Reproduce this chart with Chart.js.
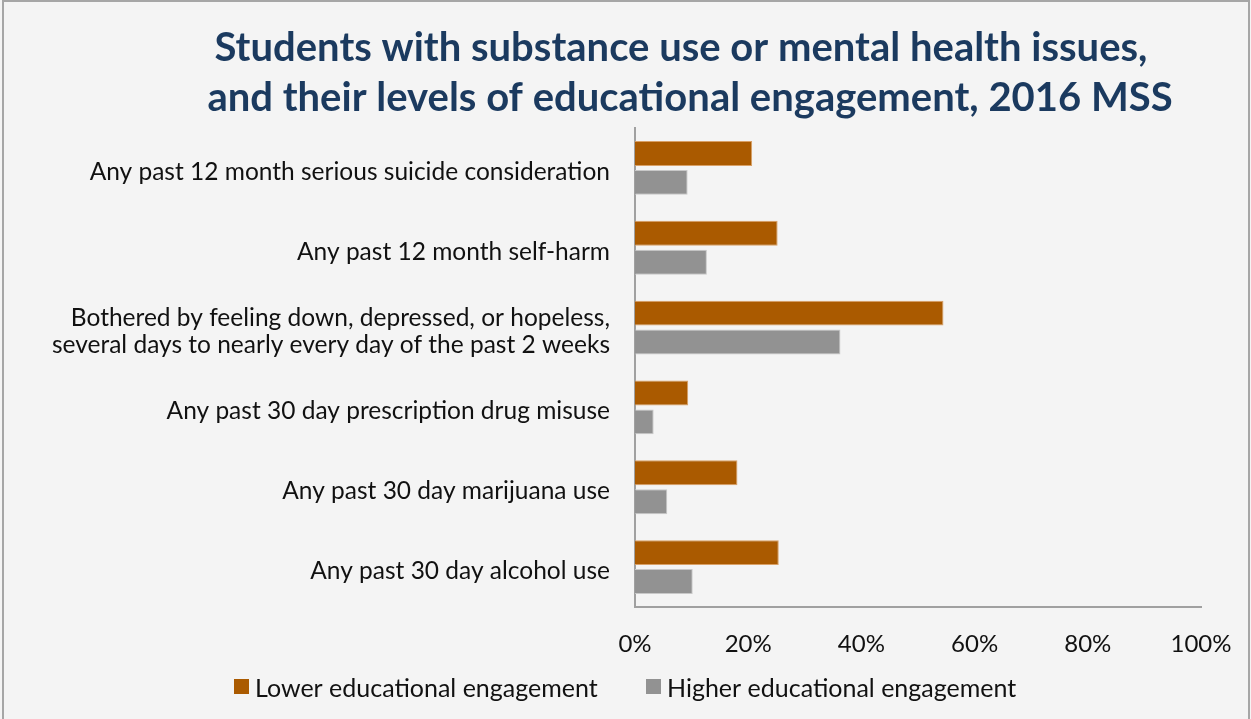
<!DOCTYPE html>
<html>
<head>
<meta charset="utf-8">
<script src="https://cdn.jsdelivr.net/npm/chart.js@4/dist/chart.umd.min.js"></script>
<style>
  html, body { margin: 0; padding: 0; background: #f4f4f4; }
  #wrap { position: relative; width: 1251px; height: 719px; }
  canvas { display: block; }
</style>
</head>
<body>
<div id="wrap"><canvas id="c" width="1251" height="719"></canvas></div>
<script>
// Survey categories, top to bottom
const categories = [
  "Any past 12 month serious suicide consideration",
  "Any past 12 month self-harm",
  ["Bothered by feeling down, depressed, or hopeless,", "several days to nearly every day of the past 2 weeks"],
  "Any past 30 day prescription drug misuse",
  "Any past 30 day marijuana use",
  "Any past 30 day alcohol use"
];

// Percent of students in each group
const lowerEngagement  = [20.7, 25.2, 54.5, 9.4, 18.1, 25.4];
const higherEngagement = [9.3, 12.7, 36.3, 3.3, 5.7, 10.2];

const seriesNames = ["Lower educational engagement", "Higher educational engagement"];
const xTicks = [0, 20, 40, 60, 80, 100];

const titleLines = [
  "Students with substance use or mental health issues,",
  "and their levels of educational engagement, 2016 MSS"
];

const FONT = "Lato, 'Open Sans', sans-serif";

// Background, frame, title and legend drawn around the plot
const decorations = {
  id: 'decorations',
  beforeDraw(chart) {
    const ctx = chart.ctx;
    ctx.save();
    ctx.fillStyle = '#f4f4f4';
    ctx.fillRect(0, 0, chart.width, chart.height);
    ctx.strokeStyle = '#a6a6a6';
    ctx.lineWidth = 2;
    ctx.strokeRect(3, 1, 1246, 722);
    ctx.restore();
  },
  afterDraw(chart) {
    const ctx = chart.ctx;
    ctx.save();
    // title
    ctx.fillStyle = '#1b3a5f';
    ctx.font = "bold 40px " + FONT;
    ctx.textAlign = 'center';
    ctx.textBaseline = 'middle';
    ctx.fillText(titleLines[0], 681, 48);
    ctx.fillText(titleLines[1], 690, 98);
    // legend
    ctx.font = "25px " + FONT;
    ctx.textAlign = 'left';
    const legendX = [234, 646];
    chart.data.datasets.forEach((ds, i) => {
      ctx.fillStyle = ds.backgroundColor;
      ctx.fillRect(legendX[i], 679, 15, 15);
      ctx.fillStyle = '#111';
      ctx.fillText(ds.label, legendX[i] + 21, 689);
    });
    ctx.restore();
  }
};

new Chart(document.getElementById('c'), {
  type: 'bar',
  data: {
    labels: categories,
    datasets: [
      {
        label: seriesNames[0],
        data: lowerEngagement,
        backgroundColor: '#aa5a00',
        borderColor: '#d9a066',
        borderWidth: 1,
        barPercentage: 0.86,
        categoryPercentage: 0.725
      },
      {
        label: seriesNames[1],
        data: higherEngagement,
        backgroundColor: '#929292',
        borderColor: '#c8c8c8',
        borderWidth: 1,
        barPercentage: 0.86,
        categoryPercentage: 0.725
      }
    ]
  },
  options: {
    indexAxis: 'y',
    responsive: false,
    animation: false,
    layout: { padding: { left: 0, right: 50, top: 128, bottom: 0 } },
    plugins: {
      legend: { display: false },
      title: { display: false },
      tooltip: { enabled: false }
    },
    scales: {
      x: {
        min: 0,
        max: 100,
        afterBuildTicks(scale) { scale.ticks = xTicks.map(v => ({ value: v })); },
        afterFit(scale) {
          scale.height = 112;
          scale.paddingLeft = 0;
          scale.paddingRight = 0;
        },
        grid: { display: false, drawTicks: false },
        border: { display: true, color: '#a0a0a0', width: 2 },
        ticks: {
          padding: 23,
          color: '#111',
          font: { family: FONT, size: 24 },
          callback: v => v + '%'
        }
      },
      y: {
        afterFit(scale) { scale.width = 635; },
        grid: { display: false, drawTicks: false },
        border: { display: true, color: '#a0a0a0', width: 2 },
        ticks: {
          padding: 25,
          labelOffset: 4,
          color: '#111',
          font: { family: FONT, size: 24.5, lineHeight: 1.1 }
        }
      }
    }
  },
  plugins: [decorations]
});
</script>
</body>
</html>
